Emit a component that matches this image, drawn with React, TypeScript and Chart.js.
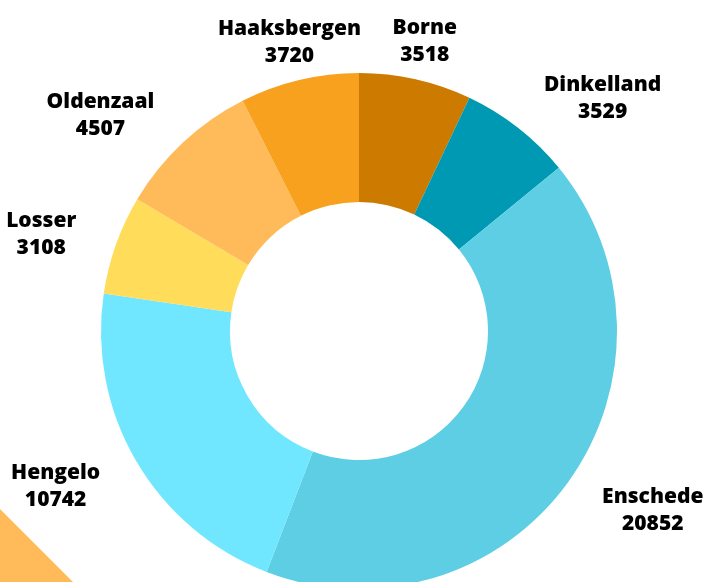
import React, { useEffect, useRef } from "react";
import { Chart, registerables } from "chart.js";

Chart.register(...registerables);

const categories = ["Borne", "Dinkelland", "Enschede", "Hengelo", "Losser", "Oldenzaal", "Haaksbergen"];
const values = [3518, 3529, 20852, 10742, 3108, 4507, 3720];
const colors = ["#CC7A00", "#0099B3", "#5DCEE3", "#70E7FF", "#FFDC5A", "#FFBB5A", "#F7A11F"];

const LABEL_FONT = "800 21px 'Open Sans'";

const outerLabels = {
  id: "outerLabels",
  afterDatasetsDraw(chart: any) {
    const meta = chart.getDatasetMeta(0);
    const ctx = chart.ctx;
    ctx.save();
    ctx.font = LABEL_FONT;
    ctx.fillStyle = "#000000";
    ctx.textAlign = "center";
    ctx.textBaseline = "alphabetic";
    meta.data.forEach((arc: any, i: number) => {
      const p = arc.getProps(["x", "y", "startAngle", "endAngle", "outerRadius"], true);
      const mid = (p.startAngle + p.endAngle) / 2;
      const vx = Math.cos(mid);
      const vy = Math.sin(mid);
      const d = p.outerRadius + 42;
      const ax = p.x + vx * d;
      const ay = p.y + vy * d;
      const lines = [chart.data.labels[i], String(chart.data.datasets[0].data[i])];
      const w = Math.max(...lines.map((l: string) => ctx.measureText(l).width));
      const f = Math.max(0, Math.min(1, (Math.abs(vx) - 0.3) / 0.3));
      const cx = ax + Math.sign(vx) * f * (w / 2);
      const cy = ay + 2;
      ctx.fillText(lines[0], cx, cy - 6);
      ctx.fillText(lines[1], cx, cy + 21);
    });
    ctx.restore();
  },
};

export default function App() {
  const ref = useRef<HTMLCanvasElement | null>(null);

  useEffect(() => {
    let chart: Chart | null = null;
    let cancelled = false;
    const make = () => {
      if (cancelled || !ref.current) return;
      chart = new Chart(ref.current, {
        type: "doughnut",
        data: {
          labels: categories,
          datasets: [
            {
              data: values,
              backgroundColor: colors,
              borderWidth: 0,
            },
          ],
        },
        options: {
          animation: false,
          responsive: false,
          maintainAspectRatio: false,
          cutout: "50%",
          layout: { padding: { left: 101, right: 90, top: 73, bottom: 31 } },
          plugins: {
            legend: { display: false },
            tooltip: { enabled: false },
          },
        },
        plugins: [outerLabels],
      });
    };
    const fonts: any = (document as any).fonts;
    if (fonts && fonts.load) {
      fonts.load(LABEL_FONT).then(make, make);
    } else {
      make();
    }
    return () => {
      cancelled = true;
      if (chart) chart.destroy();
    };
  }, []);

  return (
    <div style={{ position: "fixed", left: 0, top: 0, width: 707, height: 582, overflow: "hidden", background: "#ffffff" }}>
      <canvas ref={ref} width={707} height={620} style={{ position: "absolute", left: 0, top: 0, width: 707, height: 620 }} />
      <div
        style={{
          position: "absolute",
          left: 0,
          top: 509,
          width: 73,
          height: 73,
          background: "#FFBB5A",
          clipPath: "polygon(0 0, 0 100%, 100% 100%)",
        }}
      />
    </div>
  );
}
